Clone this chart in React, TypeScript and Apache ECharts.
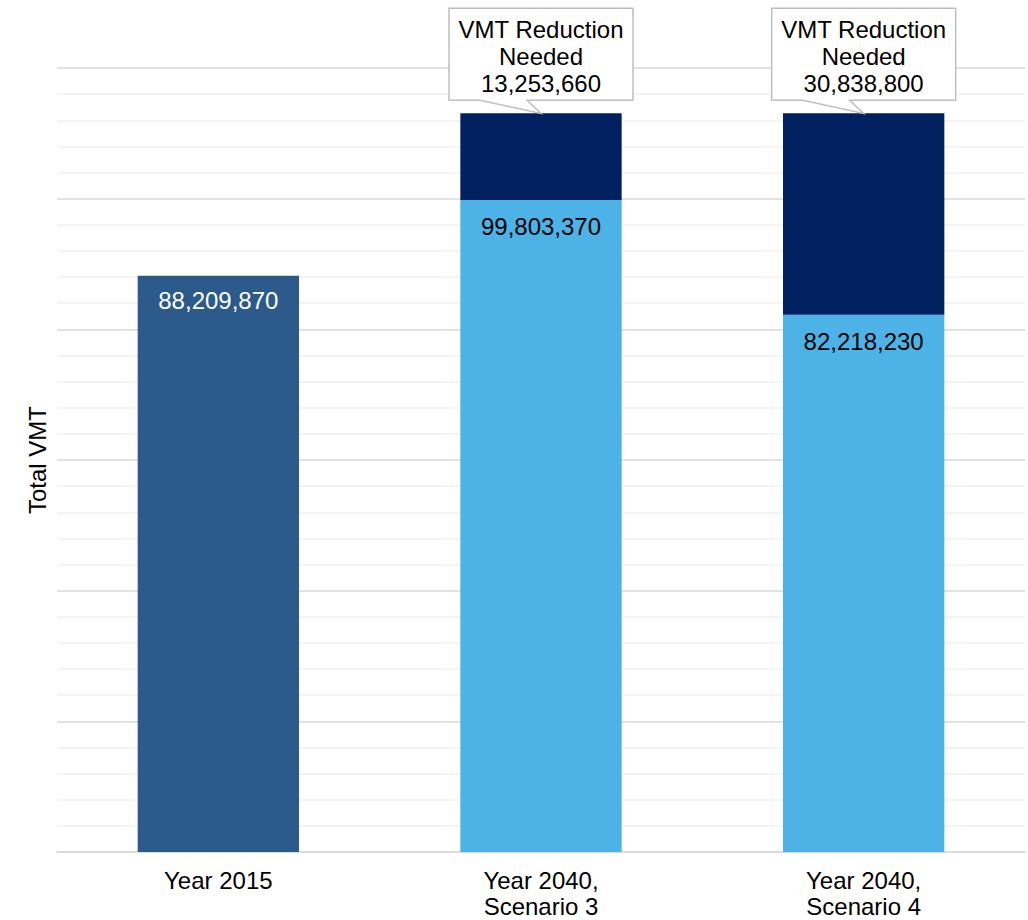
import React, { useEffect, useRef } from "react";
import * as echarts from "echarts";

const categories = ["Year 2015", "Year 2040,\nScenario 3", "Year 2040,\nScenario 4"];
const baseValues = [88209870, 99803370, 82218230];
const reductionValues = [0, 13253660, 30838800];
const calloutIndex = [1, 2];
const baseColors = ["#2B5A8B", "#4DB3E6", "#4DB3E6"];
const reductionColor = "#002060";
const yMax = 120000000;
const yInterval = 20000000;

const FONT = "'Liberation Sans', Arial, sans-serif";
const FS = 24;
const fmt = (v: number) => v.toLocaleString("en-US");

export default function App() {
  const ref = useRef<HTMLDivElement>(null);
  useEffect(() => {
    if (!ref.current) return;
    const chart = echarts.init(ref.current, undefined, { renderer: "svg" });
    const calloutData = calloutIndex.map((i) => [i, baseValues[i] + reductionValues[i], reductionValues[i]]);
    chart.setOption({
      animation: false,
      textStyle: { fontFamily: FONT },
      grid: { left: 57, right: 3, top: 68, bottom: 68, containLabel: false },
      xAxis: {
        type: "category",
        data: categories,
        axisLine: { show: true, lineStyle: { color: "#d9d9d9", width: 1.5 } },
        axisTick: { show: false },
        axisLabel: { fontSize: FS, color: "#000", lineHeight: 26, margin: 15, fontFamily: FONT },
      },
      yAxis: {
        type: "value",
        min: 0,
        max: yMax,
        interval: yInterval,
        name: "Total VMT",
        nameLocation: "middle",
        nameGap: 8,
        nameRotate: 90,
        nameTextStyle: { fontSize: FS, color: "#000", fontFamily: FONT },
        axisLabel: { show: false },
        axisLine: { show: false },
        axisTick: { show: false },
        splitLine: { show: true, lineStyle: { color: "#d9d9d9", width: 1.5 } },
        minorTick: { show: false, splitNumber: 5 },
        minorSplitLine: { show: true, lineStyle: { color: "#f0f0f0", width: 1.5 } },
      },
      series: [
        {
          type: "bar",
          stack: "total",
          barWidth: "50%",
          data: baseValues.map((v, i) => ({
            value: v,
            itemStyle: { color: baseColors[i] },
            label: {
              color: i === 0 ? "#fff" : "#000",
              distance: i === 0 ? 13 : 15,
            },
          })),
          label: {
            show: true,
            position: "insideTop",
            fontSize: FS,
            fontFamily: FONT,
            formatter: (p: any) => fmt(p.value),
          },
        },
        {
          type: "bar",
          stack: "total",
          barWidth: "50%",
          itemStyle: { color: reductionColor },
          data: reductionValues.map((v) => (v === 0 ? null : v)),
        },
        {
          type: "custom",
          data: calloutData,
          z: 10,
          renderItem: (params: any, api: any) => {
            const pt = api.coord([api.value(0), api.value(1)]);
            const cx = pt[0];
            const tip = pt[1];
            const B = tip - 13;
            const T = B - 92;
            const L = cx - 92;
            const R = cx + 92;
            return {
              type: "group",
              children: [
                {
                  type: "polygon",
                  shape: {
                    points: [
                      [L, T],
                      [R, T],
                      [R, B],
                      [cx - 14, B],
                      [cx, tip],
                      [cx - 61, B],
                      [L, B],
                    ],
                  },
                  style: { fill: "#fff", stroke: "#bfbfbf", lineWidth: 1.5 },
                },
                {
                  type: "text",
                  style: {
                    x: cx,
                    y: (T + B) / 2 + 2,
                    text: "VMT Reduction\nNeeded\n" + fmt(api.value(2)),
                    align: "center",
                    verticalAlign: "middle",
                    fontSize: FS,
                    fontFamily: FONT,
                    lineHeight: 27,
                    fill: "#000",
                  },
                },
              ],
            };
          },
        },
      ],
    });
    return () => chart.dispose();
  }, []);
  return <div ref={ref} style={{ width: 1028, height: 920, position: "absolute", left: 0, top: 0 }} />;
}
